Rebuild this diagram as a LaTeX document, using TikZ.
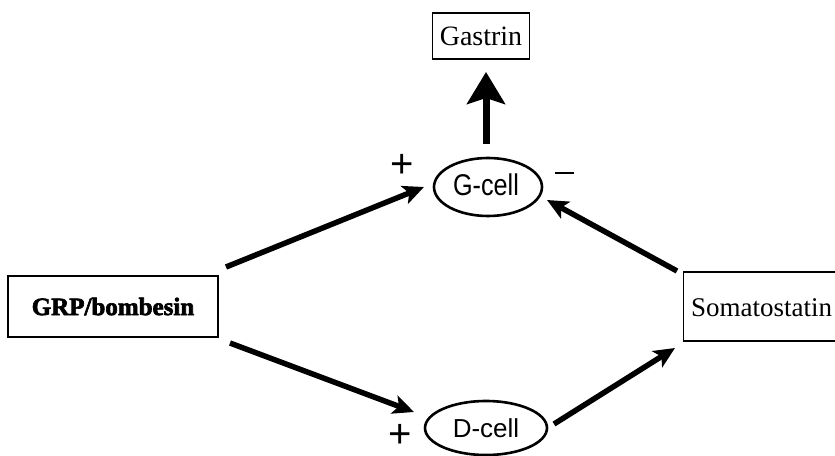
\documentclass[tikz,border=0pt]{standalone}
\usepackage{fontspec}
\setmainfont{Liberation Serif}
\newfontfamily\helv{Liberation Sans}
\newfontfamily\heavy{Liberation Serif Bold}[FakeBold=2.6]
\usetikzlibrary{arrows.meta,shapes.geometric}
\begin{document}
\begin{tikzpicture}[x=1pt,y=-1pt,
  box/.style={draw,line width=1.3pt,inner sep=0pt},
  cell/.style={draw,ellipse,line width=2.6pt,inner sep=0pt},
  conn/.style={line width=5.5pt,-{Stealth[length=21pt,width=19pt,inset=5pt]}},
  sign/.style={font=\helv\fontsize{40}{42}\selectfont,inner sep=0pt}]
\useasboundingbox (0,0) rectangle (835,455);
\clip (0,0) rectangle (835,455);
\node[box,minimum width=97pt,minimum height=46pt,font=\fontsize{28}{32}\selectfont] (gastrin) at (481,36) {Gastrin};
\node[cell,minimum width=108pt,minimum height=58pt] (gcell) at (488,187) {};
\node[font=\helv\fontsize{30}{34}\selectfont,xscale=0.84,inner sep=0pt] (gtext) at (486,185) {G-cell};
\node[cell,minimum width=122pt,minimum height=54pt,font=\helv\fontsize{26}{30}\selectfont] (dcell) at (486,428) {D-cell};
\node[box,minimum width=210pt,minimum height=61pt] (grp) at (113,306.5) {\heavy\fontsize{25}{28}\selectfont GRP/bombesin};
\node[box,minimum width=170pt,minimum height=69pt,anchor=west] (soma) at (683,306.5) {};
\node[font=\fontsize{27}{30}\selectfont,anchor=west,inner sep=0pt] (somat) at (691,308) {Somatostatin};
\coordinate (g1) at (486,144);
\coordinate (g2) at (486,72);
\draw[line width=7pt,-{Stealth[length=32pt,width=38pt,inset=6pt]}] (g1) -- (g2);
\coordinate (a1) at (226,267);
\coordinate (a2) at (424,187);
\draw[conn] (a1) -- (a2);
\coordinate (b1) at (230,343);
\coordinate (b2) at (414,412);
\draw[conn] (b1) -- (b2);
\coordinate (c1) at (554,424);
\coordinate (c2) at (675,348);
\draw[conn] (c1) -- (c2);
\coordinate (d1) at (677,271);
\coordinate (d2) at (547,200);
\draw[conn] (d1) -- (d2);
\node[sign] (p1) at (402,166) {+};
\node[sign] (m1) at (564,173) {\rule{19pt}{2.5pt}};
\node[sign] (p2) at (400,436) {+};
\end{tikzpicture}
\end{document}
